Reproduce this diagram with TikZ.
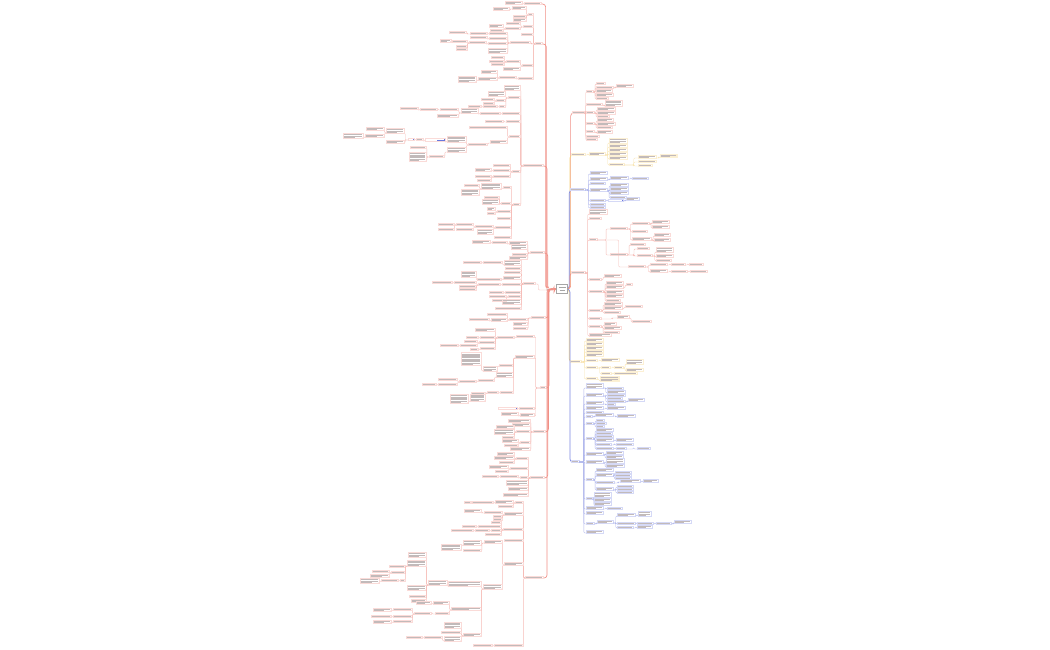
\documentclass[tikz,border=0pt]{standalone}
\usetikzlibrary{calc}
\definecolor{rd}{HTML}{EC6B5E}
\definecolor{yl}{HTML}{F2C24B}
\definecolor{bl}{HTML}{4F5FD8}
\definecolor{txt}{HTML}{C2BABA}
\newcommand\brc{rd}
\newcommand\nfill{none}
\newcommand\ntx{txt}
\tikzset{conn/.style={draw=\brc!45,line width=0.38pt,rounded corners=1pt},
 mainc/.style={draw=\brc!75,line width=0.65pt,rounded corners=3pt}}
% box with text lines: xleft, ybottom, width, lines
\newcommand\bx[4]{%
  \draw[line width=0.28pt,draw=\brc!24,fill=\nfill] ({#1},{#2+0.3}) rectangle ({#1+#3},{#2-#4*1.3-0.7});
  \foreach \i in {1,...,#4}{%
    \draw[line width=0.4pt,draw=\ntx] ({#1+0.7},{#2-0.3-(#4-\i)*1.3-0.55}) -- ++({(#3-1.4)*ifthenelse(and(\i==#4,#4>1),0.62,1)},0);}%
}
% left node: [style]{parent}{name}{xright}{y}{w}{n}
\newcommand\NL[7][conn]{%
  \coordinate (#3) at ({#4-#6},#5);
  \draw[#1] let \p1=(#2),\p2=(#4,#5) in (\p1) -- ({0.3*\x1+0.7*\x2},\y1) -- ({0.3*\x1+0.7*\x2},\y2) -- (\p2);
  \bx{#4-#6}{#5}{#6}{#7}}
% right node: [style]{parent}{name}{xleft}{y}{w}{n}
\newcommand\NR[7][conn]{%
  \coordinate (#3) at ({#4+#6},#5);
  \draw[#1] let \p1=(#2),\p2=(#4,#5) in (\p1) -- ({0.3*\x1+0.7*\x2},\y1) -- ({0.3*\x1+0.7*\x2},\y2) -- (\p2);
  \bx{#4}{#5}{#6}{#7}}
\begin{document}
\begin{tikzpicture}[x=1pt,y=-1pt]
\fill[white] (0,0) rectangle (1050,650);
\useasboundingbox (0,0) rectangle (1050,650);
\coordinate (cL) at (556.5,289);
\coordinate (cR) at (567.5,289);
% ================= RIGHT =================
\renewcommand\brc{rd}
\NR[mainc]{cR}{r1}{572}{113}{13}{1}
\NR{r1}{r1a}{586}{92}{7}{1}
\NR{r1a}{x}{596}{84}{9}{1}
\NR{r1a}{r1a2}{596}{88}{17}{1}
\NR{r1a2}{x}{616}{87}{17}{2}
\NR{r1a}{x}{596}{92}{16}{2}
\NR{r1a}{x}{596}{96}{17}{2}
\NR{r1a}{x}{596}{99}{12}{1}
\NR{r1}{r1b}{586}{105}{16}{1}
\NR{r1b}{x}{605}{106}{17}{4}
\NR{r1}{r1c}{586}{113}{8}{1}
\NR{r1c}{x}{597}{110}{18}{2}
\NR{r1c}{x}{597}{114}{18}{2}
\NR{r1c}{x}{597}{117}{12}{1}
\NR{r1}{r1d}{586}{124}{8}{1}
\NR{r1d}{x}{597}{121}{16}{2}
\NR{r1d}{x}{597}{125}{18}{2}
\NR{r1d}{x}{597}{128}{15}{1}
\NR{r1}{r1e}{586}{132}{8}{1}
\NR{r1e}{x}{597}{133}{15}{2}
\NR{r1}{x}{586}{137}{13}{1}
\NR{r1}{x}{586}{140}{11}{1}
% yellow 1
\renewcommand\brc{yl}
\NR[mainc]{cR}{y1}{571}{155}{14}{1}
\NR{y1}{y1a}{589}{155}{16}{2}
\NR{y1a}{x}{609}{143}{18}{3}
\NR{y1a}{x}{609}{147}{18}{2}
\NR{y1a}{x}{609}{151}{18}{2}
\NR{y1a}{x}{609}{155}{18}{2}
\NR{y1a}{x}{609}{159}{18}{2}
\NR{y1a}{y1b}{609}{165}{15}{1}
\NR{y1b}{y1c}{638}{158}{18}{2}
\renewcommand\nfill{yl!25}
\NR{y1c}{x}{660}{157}{17}{2}
\renewcommand\nfill{none}
\NR{y1b}{x}{638}{162}{18}{1}
\NR{y1b}{x}{638}{166}{14}{1}
% blue 1
\renewcommand\brc{bl}
\NR[mainc]{cR}{b1}{570}{190}{15}{1}
\NR{b1}{x}{590}{174}{17}{2}
\NR{b1}{b1a}{590}{180}{17}{2}
\NR{b1a}{b1b}{610}{179}{18}{2}
\NR{b1b}{x}{632}{179}{16}{1}
\NR{b1}{x}{590}{184}{15}{1}
\NR{b1}{b1c}{590}{191}{17}{2}
\NR{b1c}{x}{610}{186}{18}{2}
\NR{b1c}{x}{610}{190}{18}{2}
\NR{b1c}{x}{610}{194}{18}{2}
\NR{b1c}{x}{610}{198}{16}{1}
\NR{b1}{b1d}{590}{201}{15}{1}
\renewcommand\nfill{bl!85}\renewcommand\ntx{white}
\NR{b1d}{b1e}{608}{201}{15}{1}
\renewcommand\nfill{none}\renewcommand\ntx{txt}
\NR{b1e}{x}{626}{200}{13}{2}
\NR{b1}{x}{590}{205}{15}{1}
\NR{b1}{x}{590}{208}{15}{1}
% red 2
\renewcommand\brc{rd}
\NR[mainc]{cR}{r2}{571}{273}{14}{1}
\NR{r2}{x}{589}{214}{18}{3}
\NR{r2}{x}{589}{219}{12}{1}
\NR{r2}{r2a}{589}{240}{8}{1}
\NR{r2a}{r2b}{610}{229}{17}{1}
\NR{r2b}{r2c}{632}{224}{17}{1}
\NR{r2c}{x}{652}{223}{17}{2}
\NR{r2c}{x}{652}{228}{17}{2}
\NR{r2b}{x}{632}{232}{15}{1}
\NR{r2b}{r2d}{632}{240}{19}{2}
\NR{r2d}{x}{654}{236}{16}{2}
\NR{r2d}{x}{654}{241}{16}{2}
\NR{r2a}{r2e}{610}{255}{17}{1}
\NR{r2e}{x}{630}{245}{15}{1}
\NR{r2e}{x}{637}{249}{12}{1}
\NR{r2e}{r2f}{637}{256}{15}{1}
\NR{r2f}{x}{656}{252}{17}{3}
\NR{r2f}{x}{656}{257}{17}{2}
\NR{r2f}{x}{656}{261}{15}{1}
\NR{r2a}{r2g}{628}{267}{17}{1}
\NR{r2g}{r2g1}{650}{265}{17}{1}
\NR{r2g1}{r2g3}{671}{265}{14}{1}
\NR{r2g3}{x}{689}{265}{14}{1}
\NR{r2g}{r2g2}{650}{272}{17}{2}
\NR{r2g2}{r2g4}{671}{272}{16}{1}
\NR{r2g4}{x}{690}{272}{17}{1}
\NR{r2}{r2k0}{589}{280}{12}{1}
\NR{r2k0}{x}{604}{277}{17}{2}
\NR{r2}{r2h}{589}{292}{14}{1}
\NR{r2h}{x}{606}{284}{17}{2}
\NR{r2h}{r2i}{606}{288}{17}{2}
\NR{r2i}{x}{626}{285}{6}{1}
\NR{r2h}{x}{606}{293}{17}{2}
\NR{r2h}{x}{606}{297}{17}{2}
\NR{r2h}{x}{606}{301}{14}{1}
\NR{r2}{r2j}{589}{311}{12}{1}
\NR{r2j}{x}{604}{305}{18}{2}
\NR{r2j}{r2k}{604}{309}{18}{2}
\NR{r2k}{x}{625}{307}{17}{1}
\NR{r2j}{x}{604}{313}{16}{1}
\NR{r2}{r2l}{589}{319}{12}{1}
\NR{r2l}{r2m}{617}{318}{12}{2}
\NR{r2m}{x}{632}{322}{19}{1}
\NR{r2}{r2n}{589}{327}{12}{1}
\NR{r2n}{x}{604}{325}{12}{2}
\NR{r2n}{x}{604}{329}{17}{2}
\NR{r2n}{x}{604}{333}{15}{1}
\NR{r2}{x}{589}{336}{22}{2}
% yellow 2
\renewcommand\brc{yl}
\NR[mainc]{cR}{y2}{570}{362}{11}{1}
\NR{y2}{x}{586}{341}{17}{2}
\NR{y2}{x}{586}{345}{17}{2}
\NR{y2}{x}{586}{349}{17}{2}
\NR{y2}{x}{586}{352}{17}{1}
\NR{y2}{x}{586}{356}{17}{2}
\NR{y2}{y2a}{586}{361}{11}{1}
\NR{y2a}{x}{601}{361}{18}{2}
\NR{y2}{y2b}{586}{368}{11}{1}
\NR{y2b}{y2c}{601}{368}{9}{1}
\NR{y2c}{y2d}{614}{368}{9}{1}
\NR{y2d}{x}{626}{364}{17}{3}
\NR{y2d}{x}{626}{371}{17}{2}
\NR{y2b}{y2e}{601}{374}{10}{1}
\NR{y2e}{x}{614}{374}{23}{1}
\NR{y2}{y2f}{586}{379}{11}{1}
\renewcommand\nfill{yl!25}
\NR{y2f}{x}{600}{381}{19}{3}
\renewcommand\nfill{none}
% blue 2
\renewcommand\brc{bl}
\NR[mainc]{cR}{b2}{571}{462}{8}{1}
\NR{b2}{b2a}{586}{388}{17}{3}
\NR{b2a}{x}{607}{389}{16}{1}
\NR{b2a}{x}{607}{393}{18}{2}
\NR{b2}{b2b}{586}{396}{17}{2}
\NR{b2b}{x}{607}{396}{18}{1}
\NR{b2b}{x}{607}{399}{15}{1}
\NR{b2b}{b2c}{607}{402}{18}{1}
\NR{b2c}{x}{628}{401}{16}{2}
\NR{b2}{b2d}{586}{404}{17}{2}
\NR{b2d}{x}{607}{405}{8}{1}
\NR{b2}{b2e}{586}{409}{17}{2}
\NR{b2e}{x}{607}{409}{18}{2}
\NR{b2}{x}{586}{413}{17}{1}
\NR{b2}{b2f}{586}{417}{6}{1}
\NR{b2f}{b2g}{595}{416}{18}{2}
\NR{b2g}{x}{617}{417}{18}{2}
\NR{b2}{b2h}{586}{424}{7}{1}
\NR{b2h}{x}{596}{421}{8}{1}
\NR{b2h}{x}{596}{424}{10}{1}
\NR{b2h}{x}{596}{427}{8}{1}
\NR{b2}{b2i}{586}{439}{7}{1}
\NR{b2i}{x}{596}{431}{17}{2}
\NR{b2i}{x}{596}{434}{16}{1}
\NR{b2i}{x}{596}{437}{17}{1}
\NR{b2i}{b2j}{596}{441}{17}{2}
\NR{b2j}{x}{616}{441}{17}{2}
\NR{b2i}{b2k}{596}{445}{15}{1}
\NR{b2k}{x}{616}{445}{17}{1}
\NR{b2i}{b2l}{596}{449}{17}{1}
\NR{b2l}{b2m}{616}{449}{10}{1}
\NR{b2m}{x}{637}{449}{13}{1}
\NR{b2}{b2n}{586}{455}{17}{2}
\NR{b2n}{x}{606}{454}{17}{2}
\NR{b2n}{x}{606}{458}{17}{2}
\NR{b2}{b2o}{586}{463}{17}{2}
\NR{b2o}{x}{606}{463}{18}{3}
\NR{b2o}{x}{606}{467}{18}{2}
\NR{b2}{b2p}{586}{480}{7}{1}
\NR{b2p}{x}{596}{471}{17}{2}
\NR{b2p}{b2q}{596}{476}{17}{2}
\NR{b2q}{x}{615}{473}{16}{1}
\NR{b2q}{x}{615}{476}{16}{1}
\NR{b2q}{x}{615}{479}{16}{1}
\NR{b2p}{b2r}{596}{483}{18}{1}
\NR{b2r}{b2s}{620}{482}{20}{2}
\NR{b2s}{x}{643}{482}{15}{2}
\NR{b2p}{b2t}{596}{490}{17}{2}
\NR{b2t}{x}{617}{487}{16}{1}
\NR{b2t}{x}{617}{490}{16}{1}
\NR{b2t}{x}{617}{493}{16}{1}
\NR{b2}{b2u}{586}{499}{7}{1}
\NR{b2u}{x}{594}{497}{17}{3}
\NR{b2u}{x}{594}{501}{17}{2}
\NR{b2u}{x}{594}{505}{17}{2}
\NR{b2}{b2v}{586}{509}{17}{2}
\NR{b2v}{x}{607}{509}{15}{1}
\NR{b2}{x}{586}{514}{17}{2}
\NR{b2}{b2w}{586}{524}{8}{1}
\NR{b2w}{b2x}{597}{523}{16}{2}
\NR{b2x}{b2y}{617}{516}{18}{2}
\NR{b2y}{x}{638}{516}{13}{3}
\NR{b2x}{b2z}{617}{524}{18}{1}
\NR{b2z}{b2za}{637}{524}{16}{1}
\NR{b2za}{b2zb}{656}{524}{15}{1}
\NR{b2zb}{x}{674}{523}{17}{2}
\NR{b2x}{b2zc}{617}{528}{16}{1}
\NR{b2zc}{x}{637}{528}{15}{2}
\NR{b2}{x}{586}{533}{17}{2}
% ================= LEFT =================
\renewcommand\brc{rd}
% L1
\NL[mainc]{cL}{l1}{541}{4}{17}{1}
\NL{l1}{x}{522}{4}{17}{2}
% L2
\NL[mainc]{cL}{l2}{542}{44}{7}{1}
\NL{l2}{l2a}{533}{15}{5}{1}
\NL{l2a}{l2a1}{526}{9}{14}{2}
\NL{l2a1}{x}{509}{10}{16}{2}
\NL{l2a}{x}{526}{17}{13}{1}
\NL{l2a}{x}{526}{21}{13}{2}
\NL{l2}{l2b}{533}{27}{10}{1}
\NL{l2b}{x}{520}{24}{14}{1}
\NL{l2b}{l2b1}{520}{29}{15}{1}
\NL{l2b1}{x}{503}{27}{14}{2}
\NL{l2b1}{x}{503}{31}{13}{1}
\NL{l2}{x}{533}{35}{12}{1}
\NL{l2}{l2d}{530}{43}{20}{1}
\NL{l2d}{l2e}{507}{34}{18}{1}
\NL{l2e}{l2f}{487}{34}{17}{1}
\NL{l2f}{x}{466}{33}{17}{1}
\NL{l2d}{l2g}{507}{39}{18}{1}
\NL{l2g}{x}{487}{38}{17}{1}
\NL{l2d}{l2h}{507}{44}{19}{1}
\NL{l2h}{l2i}{486}{43}{17}{1}
\NL{l2i}{l2i2}{467}{42}{15}{1}
\NL{l2i2}{x}{451}{42}{11}{2}
\NL{l2i}{x}{467}{47}{11}{1}
\NL{l2i}{x}{467}{50}{11}{1}
\NL{l2d}{x}{507}{53}{19}{3}
\NL{l2}{l2j}{533}{66}{11}{1}
\NL{l2j}{l2k}{520}{62}{14}{1}
\NL{l2k}{x}{504}{58}{13}{1}
\NL{l2k}{x}{504}{62}{15}{1}
\NL{l2k}{x}{504}{65}{13}{1}
\NL{l2j}{x}{520}{70}{17}{2}
\NL{l2}{l2l}{533}{79}{15}{1}
\NL{l2l}{l2m}{516}{78}{17}{1}
\NL{l2m}{l2n}{497}{80}{19}{2}
\NL{l2n}{x}{476}{82}{18}{4}
\NL{l2m}{x}{497}{73}{16}{2}
% L3
\NL[mainc]{cL}{l3}{543}{166}{20}{1}
\NL{l3}{x}{520}{90}{16}{3}
\NL{l3}{l3b}{520}{98}{12}{1}
\NL{l3b}{x}{505}{96}{17}{3}
\NL{l3b}{l3c}{505}{101}{9}{1}
\NL{l3c}{x}{494}{100}{13}{1}
\NL{l3c}{x}{494}{104}{11}{1}
\NL{l3b}{l3d}{505}{107}{6}{1}
\NL{l3d}{l3d2}{497}{107}{14}{1}
\NL{l3d2}{x}{481}{107}{13}{1}
\NL{l3}{l3e}{520}{114}{18}{1}
\NL{l3e}{l3f}{500}{114}{20}{1}
\NL{l3f}{l3g}{478}{113}{17}{3}
\NL{l3g}{l3h}{458}{110}{18}{1}
\NL{l3h}{l3i}{437}{110}{17}{1}
\NL{l3i}{x}{418}{109}{18}{1}
\NL{l3g}{x}{458}{117}{21}{2}
\NL{l3}{l3j}{520}{122}{14}{1}
\NL{l3j}{x}{503}{122}{18}{1}
\NL{l3}{l3k}{520}{137}{11}{1}
\NL{l3k}{x}{507}{128}{38}{1}
\NL{l3k}{l3l}{507}{143}{17}{2}
\NL{l3l}{l3m}{487}{145}{19}{1}
\NL{l3m}{l3n}{466}{142}{19}{4}
\renewcommand\nfill{bl!85}\renewcommand\ntx{white}
\NL{l3n}{l3o}{445}{141}{20}{2}
\renewcommand\nfill{none}\renewcommand\ntx{txt}
\NL{l3o}{l3p}{423}{140}{7}{1}
\renewcommand\nfill{bl!85}\renewcommand\ntx{white}
\NL{l3p}{l3q}{414}{140}{6}{1}
\renewcommand\nfill{none}\renewcommand\ntx{txt}
\NL{l3q}{l3r}{404}{133}{18}{3}
\NL{l3r}{x}{384}{130}{18}{2}
\NL{l3r}{l3t}{384}{137}{19}{2}
\NL{l3t}{x}{363}{138}{20}{3}
\NL{l3q}{x}{404}{143}{18}{2}
\NL{l3m}{l3u}{466}{152}{19}{3}
\NL{l3u}{l3v}{444}{157}{15}{1}
\NL{l3v}{x}{426}{148}{16}{1}
\NL{l3v}{x}{426}{161}{17}{6}
\NL{l3}{l3w}{520}{172}{8}{1}
\NL{l3w}{x}{510}{166}{17}{1}
\NL{l3w}{l3x}{510}{171}{17}{1}
\NL{l3x}{x}{491}{171}{16}{2}
\NL{l3w}{l3y}{510}{177}{17}{1}
\NL{l3y}{x}{491}{177}{16}{1}
\NL{l3y}{x}{491}{181}{14}{1}
\NL{l3}{m1}{520}{205}{7}{1}
\NL{m1}{m2}{511}{188}{8}{1}
\NL{m2}{m3}{501}{189}{20}{4}
\NL{m3}{x}{479}{195}{18}{4}
\NL{m3}{x}{479}{186}{15}{1}
\NL{m1}{m4}{511}{204}{10}{1}
\NL{m4}{x}{499}{204}{17}{3}
\NL{m4}{x}{499}{198}{15}{1}
\NL{m1}{m5}{511}{212}{14}{1}
\NL{m5}{x}{495}{210}{8}{2}
\NL{m5}{x}{495}{214}{8}{1}
\NL{m1}{x}{511}{219}{14}{1}
\NL{m1}{m6}{511}{228}{16}{1}
\NL{m6}{m7}{493}{227}{18}{1}
\NL{m7}{m7a}{473}{225}{17}{1}
\NL{m7a}{x}{454}{225}{16}{1}
\NL{m7a}{x}{454}{230}{16}{1}
\NL{m7}{x}{473}{230}{17}{1}
\NL{m6}{x}{493}{234}{16}{3}
\NL{m1}{x}{511}{238}{17}{1}
% L4
\NL[mainc]{cL}{l4}{544}{253}{14}{1}
\NL{l4}{l4x}{527}{244}{18}{2}
\NL{l4x}{l4y}{507}{243}{15}{1}
\NL{l4y}{x}{490}{243}{18}{2}
\NL{l4}{x}{527}{249}{16}{3}
\NL{l4}{x}{527}{255}{15}{1}
\NL{l4}{x}{527}{259}{18}{2}
% L5
\NL[mainc]{cL}{l5}{553}{290}{7}{1}
\NL{l5}{l5a}{535}{284}{12}{1}
\NL{l5a}{l5b}{521}{265}{17}{3}
\NL{l5b}{l5b2}{502}{263}{19}{1}
\NL{l5b2}{x}{481}{263}{18}{1}
\NL{l5a}{x}{521}{269}{16}{1}
\NL{l5a}{x}{521}{273}{17}{1}
\NL{l5a}{l5c}{521}{279}{18}{2}
\NL{l5c}{l5d}{501}{280}{24}{1}
\NL{l5d}{x}{476}{277}{15}{4}
\NL{l5a}{l5e}{521}{285}{19}{1}
\NL{l5e}{l5f}{500}{285}{22}{1}
\NL{l5f}{l5g}{476}{283}{22}{1}
\NL{l5g}{x}{452}{283}{20}{1}
\NL{l5f}{x}{476}{287}{17}{1}
\NL{l5f}{x}{476}{290}{17}{1}
\NL{l5a}{l5h}{521}{293}{16}{1}
\NL{l5h}{x}{503}{293}{14}{1}
\NL{l5a}{l5i}{521}{297}{13}{1}
\NL{l5i}{x}{506}{297}{17}{1}
\NL{l5i}{x}{506}{301}{14}{1}
\NL{l5a}{x}{521}{304}{19}{3}
\NL{l5a}{x}{521}{309}{26}{1}
% L6
\NL[mainc]{cL}{l6}{545}{318}{14}{1}
\NL{l6}{l6a}{527}{320}{18}{1}
\NL{l6a}{x}{507}{315}{20}{1}
\NL{l6a}{l6b}{507}{321}{16}{2}
\NL{l6b}{x}{489}{320}{20}{1}
\NL{l6}{x}{527}{325}{14}{2}
\NL{l6}{x}{527}{329}{14}{1}
% L7
\NL[mainc]{cL}{l7}{546}{388}{6}{1}
\NL{l7}{l7a}{534}{337}{18}{1}
\NL{l7a}{l7b}{514}{338}{17}{1}
\NL{l7b}{x}{495}{331}{20}{2}
\NL{l7b}{l7c}{495}{338}{15}{1}
\NL{l7c}{x}{478}{338}{12}{1}
\NL{l7b}{l7d}{495}{343}{16}{1}
\NL{l7d}{x}{477}{342}{13}{1}
\NL{l7d}{l7d2}{477}{346}{17}{1}
\NL{l7d2}{x}{458}{346}{18}{1}
\NL{l7b}{l7e}{495}{349}{15}{1}
\NL{l7e}{x}{478}{350}{8}{1}
\NL{l7}{l7f}{534}{358}{19}{2}
\NL{l7f}{l7g}{513}{366}{14}{1}
\NL{l7g}{l7h}{497}{371}{14}{3}
\NL{l7h}{x}{481}{365}{20}{9}
\NL{l7f}{l7i}{513}{377}{17}{3}
\NL{l7i}{l7j}{494}{381}{16}{1}
\NL{l7j}{l7k}{476}{382}{17}{1}
\NL{l7k}{x}{457}{380}{19}{1}
\NL{l7k}{l7k2}{457}{385}{19}{1}
\NL{l7k2}{x}{436}{385}{14}{1}
\NL{l7f}{l7l}{513}{393}{13}{1}
\NL{l7l}{l7m}{498}{393}{11}{1}
\NL{l7m}{l7n}{485}{401}{15}{5}
\NL{l7n}{x}{468}{403}{18}{6}
\NL{l7m}{x}{485}{394}{14}{1}
\NL{l7}{l7o}{534}{409}{15}{1}
\renewcommand\nfill{bl!85}\renewcommand\ntx{white}
\NL{l7o}{l7p}{517}{409}{19}{1}
\renewcommand\nfill{none}\renewcommand\ntx{txt}
\NL{l7}{l7q}{534}{416}{14}{2}
\NL{l7q}{x}{518}{415}{17}{2}
% L8
\NL[mainc]{cL}{l8}{545}{432}{12}{1}
\NL{l8}{x}{530}{422}{22}{2}
\NL{l8}{x}{530}{426}{18}{2}
\NL{l8}{l8a}{530}{432}{14}{1}
\NL{l8a}{x}{514}{428}{18}{2}
\NL{l8a}{x}{514}{434}{20}{3}
\NL{l8a}{x}{514}{438}{12}{1}
\NL{l8}{l8b}{530}{443}{10}{1}
\NL{l8b}{x}{518}{442}{16}{2}
\NL{l8b}{x}{518}{446}{14}{1}
\NL{l8}{x}{530}{450}{20}{2}
% L9
\NL[mainc]{cL}{l9}{544}{478}{14}{1}
\NL{l9}{l9a}{528}{459}{12}{1}
\NL{l9a}{x}{514}{455}{17}{2}
\NL{l9a}{x}{514}{459}{20}{2}
\NL{l9a}{x}{514}{463}{15}{1}
\NL{l9}{l9b}{528}{469}{18}{1}
\NL{l9b}{x}{508}{468}{19}{2}
\NL{l9b}{x}{508}{472}{13}{1}
\NL{l9}{l9c}{528}{478}{8}{1}
\NL{l9c}{l9d}{518}{477}{18}{1}
\NL{l9d}{x}{498}{477}{16}{1}
\NL{l9}{x}{528}{485}{22}{3}
\NL{l9}{x}{528}{490}{20}{2}
\NL{l9}{x}{528}{496}{25}{2}
% L10
\NL[mainc]{cL}{l10}{543}{578}{18}{1}
\NL{l10}{p1}{523}{503}{8}{1}
\NL{p1}{p2}{513}{503}{18}{2}
\NL{p2}{p2a}{493}{503}{21}{1}
\NL{p2a}{x}{471}{503}{7}{1}
\NL{p1}{x}{513}{507}{15}{1}
\NL{l10}{p3}{523}{515}{19}{2}
\NL{p3}{p4}{502}{513}{18}{1}
\NL{p4}{x}{481}{512}{17}{2}
\NL{p3}{x}{502}{517}{9}{1}
\NL{p3}{x}{502}{520}{9}{1}
\NL{l10}{p5}{523}{530}{20}{1}
\NL{p5}{x}{501}{523}{10}{1}
\NL{p5}{p6}{501}{527}{23}{1}
\NL{p6}{x}{476}{527}{14}{1}
\NL{p5}{p7}{501}{531}{10}{1}
\NL{p7}{p7a}{489}{531}{14}{1}
\NL{p7a}{x}{473}{531}{22}{1}
\NL{p5}{x}{501}{535}{16}{1}
\NL{l10}{x}{523}{541}{19}{1}
\NL{l10}{p9}{523}{565}{19}{2}
\NL{p9}{p10}{502}{543}{18}{2}
\NL{p10}{p11}{481}{545}{18}{3}
\NL{p11}{x}{461}{550}{20}{4}
\NL{p10}{x}{481}{551}{18}{1}
\NL{p9}{p12}{502}{589}{19}{3}
\NL{p12}{p13}{481}{586}{33}{3}
\NL{p13}{p14}{447}{585}{19}{3}
\NL{p14}{x}{426}{557}{18}{3}
\NL{p14}{p15}{426}{566}{19}{4}
\NL{p15}{x}{405}{567}{16}{1}
\NL{p15}{p16}{405}{573}{14}{1}
\NL{p16}{x}{389}{572}{17}{1}
\NL{p16}{x}{389}{577}{19}{2}
\NL{p15}{p17}{405}{581}{5}{1}
\NL{p17}{p17a}{398}{581}{17}{1}
\NL{p17a}{x}{379}{583}{19}{3}
\NL{p14}{x}{426}{590}{19}{3}
\NL{p14}{x}{426}{597}{17}{1}
\NL{p14}{x}{426}{602}{15}{2}
\NL{p12}{p19}{481}{610}{30}{2}
\NL{p19}{p20}{449}{604}{16}{2}
\NL{p20}{x}{431}{604}{15}{2}
\NL{p19}{p21}{449}{614}{14}{1}
\NL{p21}{p22}{431}{614}{17}{1}
\NL{p22}{p23}{412}{610}{19}{1}
\NL{p23}{x}{391}{611}{18}{2}
\NL{p22}{p24}{412}{617}{19}{1}
\NL{p24}{x}{391}{617}{20}{1}
\NL{p22}{p25}{412}{622}{19}{1}
\NL{p25}{x}{391}{623}{18}{2}
\NL{p12}{p26}{481}{636}{18}{2}
\NL{p26}{x}{461}{628}{17}{4}
\NL{p26}{x}{461}{633}{20}{1}
\NL{p26}{p27}{461}{641}{17}{3}
\NL{p27}{p28}{442}{638}{18}{1}
\NL{p28}{x}{422}{638}{16}{1}
\NL{l10}{p30}{523}{646}{29}{1}
\NL{p30}{x}{492}{646}{19}{1}
% ================= CENTER =================
\node[draw=gray!70,fill=white,line width=0.5pt,minimum width=11pt,minimum height=9pt,inner sep=0pt] (C) at (562,289) {};
\draw[gray!70,line width=0.6pt] (558.5,287.3) -- (565.5,287.3) (559.5,290.2) -- (564.5,290.2);
\end{tikzpicture}
\end{document}
